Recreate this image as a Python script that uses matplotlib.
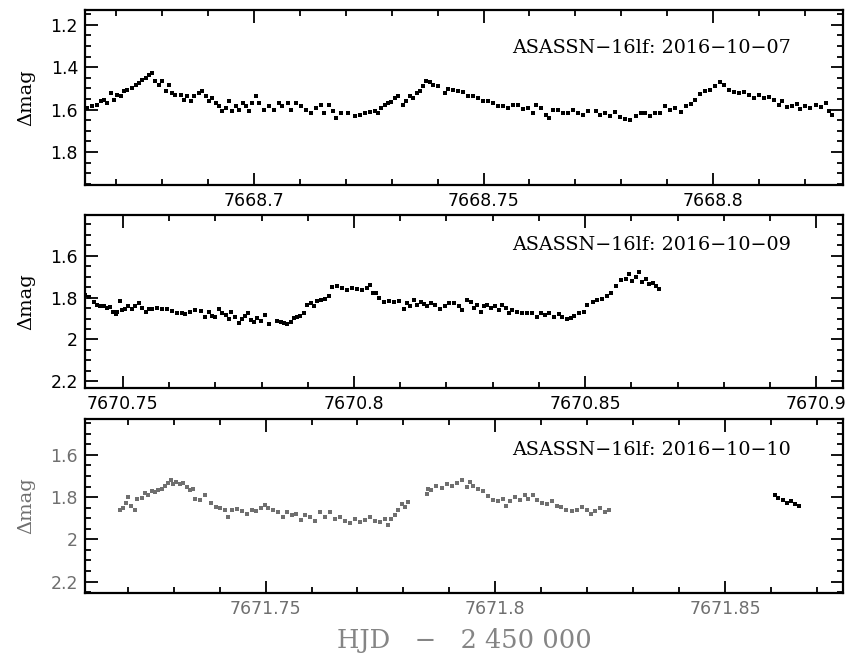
import matplotlib
matplotlib.use("Agg")
import matplotlib.pyplot as plt
from matplotlib.ticker import MultipleLocator, FuncFormatter

# ---- data (HJD - 2450000, delta mag) ----
t1 = [7668.6637, 7668.6648, 7668.6659, 7668.6666, 7668.6673, 7668.6680, 7668.6688, 7668.6695,
      7668.6702, 7668.6710, 7668.6717, 7668.6724, 7668.6735, 7668.6742, 7668.6749, 7668.6757,
      7668.6764, 7668.6771, 7668.6778, 7668.6784, 7668.6793, 7668.6800, 7668.6808, 7668.6815,
      7668.6822, 7668.6829, 7668.6840, 7668.6847, 7668.6855, 7668.6862, 7668.6869, 7668.6880,
      7668.6887, 7668.6895, 7668.6902, 7668.6909, 7668.6917, 7668.6924, 7668.6931, 7668.6938,
      7668.6946, 7668.6953, 7668.6960, 7668.6967, 7668.6975, 7668.6982, 7668.6989, 7668.6996,
      7668.7004, 7668.7011, 7668.7022, 7668.7033, 7668.7044, 7668.7054, 7668.7062, 7668.7073,
      7668.7080, 7668.7091, 7668.7102, 7668.7113, 7668.7124, 7668.7134, 7668.7145, 7668.7153,
      7668.7163, 7668.7171, 7668.7178, 7668.7190, 7668.7205, 7668.7219, 7668.7230, 7668.7241,
      7668.7252, 7668.7263, 7668.7270, 7668.7277, 7668.7285, 7668.7292, 7668.7299, 7668.7307,
      7668.7314, 7668.7325, 7668.7332, 7668.7339, 7668.7346, 7668.7354, 7668.7361, 7668.7368,
      7668.7375, 7668.7383, 7668.7390, 7668.7401, 7668.7417, 7668.7423, 7668.7434, 7668.7444,
      7668.7455, 7668.7466, 7668.7477, 7668.7488, 7668.7499, 7668.7510, 7668.7521, 7668.7532,
      7668.7542, 7668.7553, 7668.7564, 7668.7575, 7668.7586, 7668.7597, 7668.7608, 7668.7615,
      7668.7626, 7668.7637, 7668.7642, 7668.7651, 7668.7662, 7668.7673, 7668.7684, 7668.7695,
      7668.7706, 7668.7717, 7668.7728, 7668.7744, 7668.7754, 7668.7765, 7668.7776, 7668.7787,
      7668.7798, 7668.7809, 7668.7820, 7668.7831, 7668.7842, 7668.7852, 7668.7863, 7668.7874,
      7668.7885, 7668.7896, 7668.7907, 7668.7918, 7668.7929, 7668.7940, 7668.7951, 7668.7961,
      7668.7972, 7668.7983, 7668.7994, 7668.8005, 7668.8016, 7668.8023, 7668.8034, 7668.8045,
      7668.8056, 7668.8067, 7668.8078, 7668.8089, 7668.8100, 7668.8110, 7668.8121, 7668.8132,
      7668.8143, 7668.8150, 7668.8161, 7668.8172, 7668.8183, 7668.8190, 7668.8201, 7668.8212,
      7668.8223, 7668.8234, 7668.8245, 7668.8253, 7668.8258]
m1 = [1.592, 1.584, 1.576, 1.561, 1.553, 1.568, 1.521, 1.553, 1.529, 1.537, 1.514, 1.506,
      1.498, 1.482, 1.475, 1.459, 1.451, 1.435, 1.427, 1.467, 1.482, 1.467, 1.514, 1.482,
      1.521, 1.529, 1.529, 1.553, 1.537, 1.561, 1.537, 1.521, 1.514, 1.537, 1.561, 1.545,
      1.568, 1.584, 1.608, 1.592, 1.561, 1.608, 1.584, 1.600, 1.568, 1.584, 1.608, 1.568,
      1.537, 1.568, 1.600, 1.584, 1.600, 1.568, 1.584, 1.568, 1.600, 1.568, 1.584, 1.600,
      1.616, 1.592, 1.576, 1.616, 1.576, 1.608, 1.639, 1.616, 1.616, 1.631, 1.624, 1.616,
      1.613, 1.608, 1.616, 1.592, 1.576, 1.568, 1.565, 1.545, 1.534, 1.576, 1.561, 1.537,
      1.545, 1.521, 1.514, 1.490, 1.467, 1.471, 1.482, 1.487, 1.521, 1.503, 1.509, 1.514,
      1.519, 1.537, 1.534, 1.545, 1.561, 1.561, 1.568, 1.581, 1.584, 1.592, 1.576, 1.576,
      1.597, 1.592, 1.616, 1.576, 1.592, 1.624, 1.639, 1.600, 1.600, 1.616, 1.616, 1.600,
      1.616, 1.624, 1.608, 1.608, 1.624, 1.616, 1.631, 1.613, 1.634, 1.644, 1.647, 1.631,
      1.616, 1.616, 1.628, 1.616, 1.616, 1.584, 1.600, 1.592, 1.613, 1.584, 1.573, 1.553,
      1.526, 1.514, 1.509, 1.490, 1.471, 1.482, 1.509, 1.519, 1.521, 1.519, 1.529, 1.545,
      1.529, 1.545, 1.540, 1.553, 1.576, 1.561, 1.589, 1.584, 1.573, 1.597, 1.584, 1.592,
      1.576, 1.589, 1.568, 1.608, 1.624]

t2 = [7670.7419, 7670.7426, 7670.7437, 7670.7444, 7670.7451, 7670.7458, 7670.7465, 7670.7473,
      7670.7478, 7670.7484, 7670.7487, 7670.7493, 7670.7498, 7670.7505, 7670.7512, 7670.7519,
      7670.7527, 7670.7534, 7670.7541, 7670.7549, 7670.7556, 7670.7563, 7670.7574, 7670.7584,
      7670.7595, 7670.7606, 7670.7617, 7670.7628, 7670.7635, 7670.7646, 7670.7657, 7670.7668,
      7670.7678, 7670.7686, 7670.7693, 7670.7700, 7670.7707, 7670.7714, 7670.7722, 7670.7729,
      7670.7733, 7670.7743, 7670.7751, 7670.7758, 7670.7765, 7670.7770, 7670.7776, 7670.7783,
      7670.7790, 7670.7798, 7670.7808, 7670.7816, 7670.7833, 7670.7841, 7670.7848, 7670.7855,
      7670.7863, 7670.7870, 7670.7877, 7670.7884, 7670.7891, 7670.7898, 7670.7906, 7670.7913,
      7670.7920, 7670.7929, 7670.7938, 7670.7945, 7670.7953, 7670.7963, 7670.7974, 7670.7985,
      7670.7996, 7670.8007, 7670.8018, 7670.8027, 7670.8034, 7670.8041, 7670.8047, 7670.8054,
      7670.8065, 7670.8075, 7670.8086, 7670.8097, 7670.8108, 7670.8115, 7670.8122, 7670.8130,
      7670.8137, 7670.8144, 7670.8151, 7670.8158, 7670.8166, 7670.8176, 7670.8187, 7670.8196,
      7670.8205, 7670.8216, 7670.8227, 7670.8234, 7670.8245, 7670.8252, 7670.8259, 7670.8267,
      7670.8274, 7670.8281, 7670.8288, 7670.8296, 7670.8306, 7670.8314, 7670.8321, 7670.8328,
      7670.8335, 7670.8342, 7670.8353, 7670.8364, 7670.8375, 7670.8386, 7670.8396, 7670.8404,
      7670.8413, 7670.8422, 7670.8433, 7670.8443, 7670.8451, 7670.8460, 7670.8469, 7670.8476,
      7670.8487, 7670.8498, 7670.8505, 7670.8516, 7670.8526, 7670.8537, 7670.8548, 7670.8557,
      7670.8566, 7670.8577, 7670.8588, 7670.8595, 7670.8602, 7670.8610, 7670.8617, 7670.8624,
      7670.8631, 7670.8638, 7670.8646, 7670.8653, 7670.8660]
m2 = [1.785, 1.796, 1.822, 1.834, 1.839, 1.842, 1.850, 1.845, 1.867, 1.878, 1.867, 1.818,
      1.858, 1.855, 1.842, 1.855, 1.839, 1.826, 1.850, 1.867, 1.855, 1.855, 1.850, 1.853,
      1.855, 1.862, 1.872, 1.875, 1.878, 1.867, 1.858, 1.862, 1.891, 1.867, 1.888, 1.891,
      1.855, 1.872, 1.883, 1.904, 1.867, 1.894, 1.920, 1.904, 1.888, 1.875, 1.907, 1.916,
      1.899, 1.911, 1.883, 1.924, 1.911, 1.916, 1.920, 1.928, 1.916, 1.899, 1.891, 1.888,
      1.872, 1.834, 1.826, 1.839, 1.818, 1.809, 1.806, 1.793, 1.747, 1.744, 1.752, 1.764,
      1.752, 1.757, 1.764, 1.752, 1.741, 1.776, 1.776, 1.801, 1.822, 1.818, 1.822, 1.818,
      1.855, 1.826, 1.842, 1.813, 1.834, 1.822, 1.829, 1.839, 1.826, 1.834, 1.855, 1.839,
      1.826, 1.826, 1.839, 1.858, 1.809, 1.822, 1.850, 1.834, 1.867, 1.842, 1.834, 1.850,
      1.839, 1.858, 1.834, 1.850, 1.875, 1.858, 1.867, 1.872, 1.875, 1.872, 1.891, 1.875,
      1.883, 1.872, 1.891, 1.878, 1.891, 1.904, 1.899, 1.888, 1.875, 1.867, 1.834, 1.822,
      1.813, 1.806, 1.790, 1.776, 1.744, 1.715, 1.711, 1.687, 1.720, 1.703, 1.679, 1.725,
      1.711, 1.736, 1.731, 1.744, 1.760]

# third night: main run (grey) and the short late run (black)
t3 = [7671.7183, 7671.7189, 7671.7196, 7671.7201, 7671.7208, 7671.7215, 7671.7220, 7671.7230,
      7671.7237, 7671.7244, 7671.7252, 7671.7259, 7671.7266, 7671.7274, 7671.7281, 7671.7288,
      7671.7295, 7671.7299, 7671.7306, 7671.7313, 7671.7321, 7671.7328, 7671.7335, 7671.7342,
      7671.7346, 7671.7357, 7671.7368, 7671.7382, 7671.7392, 7671.7401, 7671.7411, 7671.7419,
      7671.7426, 7671.7437, 7671.7448, 7671.7459, 7671.7470, 7671.7480, 7671.7489, 7671.7498,
      7671.7506, 7671.7517, 7671.7527, 7671.7537, 7671.7546, 7671.7557, 7671.7567, 7671.7578,
      7671.7586, 7671.7596, 7671.7607, 7671.7618, 7671.7629, 7671.7640, 7671.7651, 7671.7662,
      7671.7673, 7671.7684, 7671.7694, 7671.7705, 7671.7716, 7671.7727, 7671.7738, 7671.7749,
      7671.7760, 7671.7767, 7671.7774, 7671.7782, 7671.7789, 7671.7796, 7671.7803, 7671.7810,
      7671.7851, 7671.7854, 7671.7861, 7671.7872, 7671.7883, 7671.7894, 7671.7905, 7671.7916,
      7671.7927, 7671.7938, 7671.7945, 7671.7952, 7671.7963, 7671.7974, 7671.7985, 7671.7996,
      7671.8006, 7671.8017, 7671.8023, 7671.8032, 7671.8043, 7671.8054, 7671.8065, 7671.8072,
      7671.8083, 7671.8090, 7671.8101, 7671.8112, 7671.8123, 7671.8134, 7671.8144, 7671.8155,
      7671.8166, 7671.8177, 7671.8188, 7671.8199, 7671.8208, 7671.8217, 7671.8228, 7671.8239,
      7671.8248]
m3 = [1.860, 1.851, 1.828, 1.800, 1.840, 1.860, 1.808, 1.803, 1.781, 1.788, 1.772, 1.776,
      1.765, 1.761, 1.745, 1.734, 1.718, 1.740, 1.729, 1.737, 1.734, 1.750, 1.765, 1.761,
      1.808, 1.816, 1.792, 1.828, 1.847, 1.851, 1.860, 1.895, 1.860, 1.855, 1.866, 1.879,
      1.863, 1.866, 1.851, 1.835, 1.851, 1.860, 1.871, 1.895, 1.871, 1.887, 1.879, 1.908,
      1.887, 1.895, 1.911, 1.871, 1.895, 1.871, 1.903, 1.895, 1.911, 1.923, 1.903, 1.918,
      1.908, 1.895, 1.914, 1.918, 1.903, 1.930, 1.903, 1.887, 1.860, 1.832, 1.847, 1.824,
      1.784, 1.761, 1.765, 1.745, 1.756, 1.737, 1.745, 1.734, 1.721, 1.750, 1.729, 1.745,
      1.761, 1.772, 1.797, 1.813, 1.819, 1.808, 1.840, 1.819, 1.800, 1.813, 1.788, 1.808,
      1.788, 1.816, 1.828, 1.832, 1.819, 1.840, 1.845, 1.860, 1.866, 1.863, 1.847, 1.860,
      1.879, 1.866, 1.851, 1.871, 1.863]
t3b = [7671.8609, 7671.8616, 7671.8627, 7671.8634, 7671.8643, 7671.8652, 7671.8662]
m3b = [1.792, 1.803, 1.816, 1.828, 1.819, 1.832, 1.840]

labels = ["ASASSN\u221216lf: 2016\u221210\u221207",
          "ASASSN\u221216lf: 2016\u221210\u221209",
          "ASASSN\u221216lf: 2016\u221210\u221210"]
xlims = [(7668.6632, 7668.8283), (7670.7418, 7670.9058), (7671.7107, 7671.8757)]
ylims = [(1.955, 1.13), (2.232, 1.405), (2.254, 1.43)]

GREY = "#6f6f6f"

fig = plt.figure(figsize=(8.52, 6.59), dpi=100)
boxes = [[0.0998, 0.7193, 0.8897, 0.2656],
         [0.0998, 0.4112, 0.8897, 0.2625],
         [0.0998, 0.1002, 0.8897, 0.2640]]
axes = [fig.add_axes(b) for b in boxes]

fmt = FuncFormatter(lambda v, p: "%g" % round(v, 4))
text_y = [0.783, 0.827, 0.822]

for i, ax in enumerate(axes):
    lab_col = GREY if i == 2 else "black"
    ax.set_xlim(*xlims[i])
    ax.set_ylim(*ylims[i])
    ax.xaxis.set_major_locator(MultipleLocator(0.05))
    ax.xaxis.set_minor_locator(MultipleLocator(0.01))
    ax.yaxis.set_major_locator(MultipleLocator(0.2))
    ax.yaxis.set_minor_locator(MultipleLocator(0.05))
    ax.xaxis.set_major_formatter(fmt)
    ax.yaxis.set_major_formatter(fmt)
    ax.tick_params(which="both", direction="in", top=True, right=True, width=1.3)
    ax.tick_params(which="major", length=9, labelsize=12.5, pad=5, labelcolor=lab_col)
    ax.tick_params(which="minor", length=4.5)
    for s in ax.spines.values():
        s.set_linewidth(1.6)
    ax.set_ylabel("\u0394mag", family="DejaVu Serif", fontsize=14, color=lab_col, labelpad=11)
    ax.text(0.931, text_y[i], labels[i], transform=ax.transAxes,
            ha="right", va="center", family="DejaVu Serif", fontsize=13.8)

axes[0].plot(t1, m1, ls="None", marker="s", ms=2.5, mew=0, color="black")
axes[1].plot(t2, m2, ls="None", marker="s", ms=2.5, mew=0, color="black")
axes[2].plot(t3, m3, ls="None", marker="s", ms=2.5, mew=0, color=GREY)
axes[2].plot(t3b, m3b, ls="None", marker="s", ms=2.5, mew=0, color="black")

axes[2].set_xlabel("HJD   \u2212   2 450 000", family="DejaVu Serif", fontsize=18.5,
                   color="#858585", labelpad=7)

fig.savefig("out.png", dpi=100)
